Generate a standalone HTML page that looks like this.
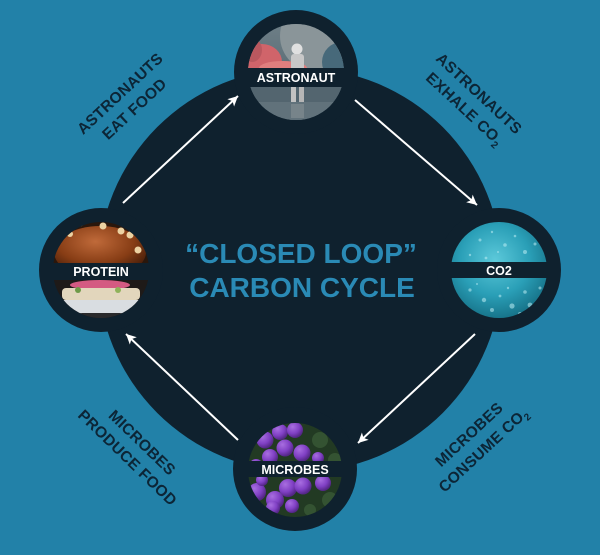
<!DOCTYPE html>
<html><head><meta charset="utf-8"><style>
html,body{margin:0;padding:0;background:#2281a8;}
svg{display:block;}
</style></head><body>
<svg width="600" height="555" viewBox="0 0 600 555" xmlns="http://www.w3.org/2000/svg">
<defs>
<clipPath id="cT"><circle cx="296" cy="72" r="48"/></clipPath>
<clipPath id="cR"><circle cx="499" cy="270" r="48"/></clipPath>
<clipPath id="cL"><circle cx="101" cy="270" r="48"/></clipPath>
<clipPath id="cB"><circle cx="295" cy="470" r="47"/></clipPath>
<radialGradient id="gCO2" cx="0.45" cy="0.4" r="0.7">
<stop offset="0" stop-color="#5cc9da"/><stop offset="0.5" stop-color="#2a9fb7"/><stop offset="1" stop-color="#0e5f74"/>
</radialGradient>
<radialGradient id="gPur" cx="0.35" cy="0.3" r="0.7">
<stop offset="0" stop-color="#a86ee0"/><stop offset="0.6" stop-color="#8040c4"/><stop offset="1" stop-color="#532685"/>
</radialGradient>
<radialGradient id="gBun" cx="0.45" cy="0.3" r="0.7">
<stop offset="0" stop-color="#c06a3a"/><stop offset="0.6" stop-color="#873d15"/><stop offset="1" stop-color="#3f1a08"/>
</radialGradient>
<linearGradient id="gAst" x1="0" y1="0" x2="0" y2="1">
<stop offset="0" stop-color="#6f8088"/><stop offset="1" stop-color="#465a64"/>
</linearGradient>
<marker id="ah" viewBox="0 0 10 10" refX="10" refY="5" markerWidth="10" markerHeight="10" markerUnits="userSpaceOnUse" orient="auto">
<path d="M0,0 L10,5 L0,10 L2.5,5 z" fill="#ffffff"/>
</marker>
</defs>

<rect width="600" height="555" fill="#2281a8"/>

<g fill="#0f212e">
<circle cx="300" cy="270" r="202"/>
<circle cx="296" cy="72" r="62"/>
<circle cx="499" cy="270" r="62"/>
<circle cx="101" cy="270" r="62"/>
<circle cx="295" cy="469" r="62"/>
</g>

<!-- Astronaut image -->
<g clip-path="url(#cT)">
<rect x="240" y="20" width="112" height="110" fill="url(#gAst)"/>
<circle cx="316" cy="36" r="36" fill="#8a9599"/>
<circle cx="342" cy="62" r="20" fill="#47697a"/>
<ellipse cx="262" cy="62" rx="20" ry="18" fill="#d0646a"/>
<ellipse cx="283" cy="68" rx="24" ry="7" fill="#e07e7e"/>
<ellipse cx="252" cy="50" rx="10" ry="12" fill="#b9585f"/>
<rect x="240" y="86" width="112" height="44" fill="#53656f"/>
<rect x="240" y="102" width="112" height="28" fill="#61727b"/>
<circle cx="297" cy="49" r="5.5" fill="#e0e0e0"/>
<rect x="291" y="54" width="13" height="17" rx="3" fill="#c8c8c8"/>
<rect x="291" y="86" width="5" height="16" fill="#c2c2c2"/>
<rect x="299" y="86" width="5" height="16" fill="#b6b6b6"/>
<rect x="291" y="104" width="13" height="14" fill="#808b92" opacity="0.7"/>
</g>
<rect x="244" y="68" width="104" height="19" fill="#0f212e"/>
<text x="296" y="82" font-family="Liberation Sans, sans-serif" font-weight="bold" font-size="12.5" fill="#ffffff" text-anchor="middle">ASTRONAUT</text>

<!-- CO2 image -->
<g clip-path="url(#cR)">
<rect x="450" y="220" width="100" height="100" fill="url(#gCO2)"/>
<g fill="#bdeef5" opacity="0.55">
<circle cx="480" cy="240" r="1.5"/><circle cx="492" cy="232" r="1.2"/><circle cx="505" cy="245" r="1.8"/>
<circle cx="515" cy="236" r="1.3"/><circle cx="470" cy="255" r="1.2"/><circle cx="525" cy="252" r="2"/>
<circle cx="535" cy="244" r="1.5"/><circle cx="498" cy="252" r="1"/><circle cx="486" cy="258" r="1.4"/>
<circle cx="470" cy="290" r="1.6"/><circle cx="484" cy="300" r="2.2"/><circle cx="500" cy="296" r="1.4"/>
<circle cx="512" cy="306" r="2.6"/><circle cx="525" cy="292" r="1.8"/><circle cx="530" cy="305" r="2.4"/>
<circle cx="492" cy="310" r="2"/><circle cx="520" cy="314" r="2"/><circle cx="477" cy="284" r="1"/>
<circle cx="508" cy="288" r="1.2"/><circle cx="540" cy="288" r="1.5"/>
</g>
</g>
<rect x="450" y="262" width="98" height="16" fill="#0f212e"/>
<text x="499" y="275" font-family="Liberation Sans, sans-serif" font-weight="bold" font-size="12.5" fill="#ffffff" text-anchor="middle">CO2</text>

<!-- Protein image -->
<g clip-path="url(#cL)">
<rect x="50" y="220" width="104" height="100" fill="#2a170c"/>
<ellipse cx="100" cy="252" rx="46" ry="26" fill="url(#gBun)"/>
<g fill="#ecd2a2">
<circle cx="80" cy="223" r="3.5"/><circle cx="103" cy="226" r="3.5"/><circle cx="121" cy="231" r="3.5"/>
<circle cx="130" cy="235" r="3.5"/><circle cx="138" cy="250" r="3.5"/><circle cx="70" cy="234" r="3"/>
</g>
<rect x="50" y="279" width="104" height="42" fill="#1e1a18"/>
<ellipse cx="100" cy="285" rx="30" ry="5" fill="#d45a82"/>
<rect x="62" y="288" width="78" height="12" rx="4" fill="#e2d6bc"/>
<circle cx="78" cy="290" r="3" fill="#6e9a48"/><circle cx="118" cy="290" r="3" fill="#8fb25a"/>
<rect x="50" y="300" width="104" height="14" fill="#d9dde1"/>
<rect x="50" y="313" width="104" height="8" fill="#2a2a2c"/>
</g>
<rect x="52" y="263" width="98" height="17" fill="#0f212e"/>
<text x="101" y="276" font-family="Liberation Sans, sans-serif" font-weight="bold" font-size="12.5" fill="#ffffff" text-anchor="middle">PROTEIN</text>

<!-- Microbes image -->
<g clip-path="url(#cB)">
<rect x="246" y="420" width="100" height="100" fill="#223a23"/>
<g fill="#3a5a36" opacity="0.8">
<circle cx="320" cy="440" r="8"/><circle cx="335" cy="460" r="7"/><circle cx="330" cy="500" r="8"/><circle cx="310" cy="510" r="6"/><circle cx="328" cy="428" r="5"/>
</g>
<g fill="url(#gPur)">
<circle cx="265" cy="440" r="8.5"/><circle cx="280" cy="432" r="8"/><circle cx="295" cy="430" r="8"/>
<circle cx="285" cy="448" r="8.5"/><circle cx="302" cy="453" r="8.5"/><circle cx="270" cy="457" r="8"/>
<circle cx="256" cy="466" r="7"/><circle cx="318" cy="458" r="6"/>
<circle cx="257" cy="492" r="9"/><circle cx="275" cy="500" r="9"/><circle cx="288" cy="488" r="9"/>
<circle cx="303" cy="486" r="8.5"/><circle cx="323" cy="483" r="8"/><circle cx="273" cy="508" r="7"/>
<circle cx="292" cy="506" r="7"/><circle cx="262" cy="480" r="6"/>
</g>
</g>
<rect x="248" y="461" width="96" height="16" fill="#0f212e"/>
<text x="295" y="474" font-family="Liberation Sans, sans-serif" font-weight="bold" font-size="12.5" fill="#ffffff" text-anchor="middle">MICROBES</text>

<!-- Arrows -->
<g stroke="#ffffff" stroke-width="2" fill="none">
<line x1="123" y1="203" x2="238" y2="96" marker-end="url(#ah)"/>
<line x1="355" y1="100" x2="477" y2="205" marker-end="url(#ah)"/>
<line x1="475" y1="334" x2="358" y2="443" marker-end="url(#ah)"/>
<line x1="238" y1="440" x2="126" y2="334" marker-end="url(#ah)"/>
</g>

<!-- Center title -->
<g font-family="Liberation Sans, sans-serif" font-weight="bold" font-size="28" fill="#2a8ab5" text-anchor="middle">
<text x="301" y="263">“CLOSED LOOP”</text>
<text x="302" y="297">CARBON CYCLE</text>
</g>

<!-- Diagonal labels -->
<g font-family="Liberation Sans, sans-serif" font-weight="bold" font-size="15.5" fill="#0c2536" text-anchor="middle" letter-spacing="0.3">
<g transform="translate(127,101) rotate(-43)">
<text x="0" y="-5">ASTRONAUTS</text>
<text x="0" y="16">EAT FOOD</text>
</g>
<g transform="translate(472,101) rotate(43)">
<text x="0" y="-5">ASTRONAUTS</text>
<text x="0" y="16">EXHALE CO<tspan font-size="10" dy="4">2</tspan></text>
</g>
<g transform="translate(135,450) rotate(44)">
<text x="0" y="-5">MICROBES</text>
<text x="0" y="16">PRODUCE FOOD</text>
</g>
<g transform="translate(476,442) rotate(-43)">
<text x="0" y="-5">MICROBES</text>
<text x="0" y="16">CONSUME CO<tspan font-size="10" dy="4">2</tspan></text>
</g>
</g>
</svg>
</body></html>
